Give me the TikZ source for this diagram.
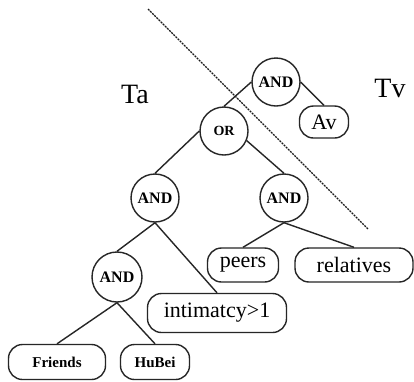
\documentclass[tikz,border=0pt]{standalone}
\usepackage{fontspec}
\setmainfont{Liberation Serif}
\begin{document}
\begin{tikzpicture}[x=1pt,y=-1pt,
  op/.style={draw=black!85,line width=1.4pt,circle,minimum size=48pt,inner sep=0pt,font=\fontsize{16}{16}\selectfont\bfseries},
  leaf/.style={draw=black!85,line width=1.4pt,rounded corners=14pt,inner sep=0pt,font=\fontsize{22}{22}\selectfont},
  sleaf/.style={draw=black!85,line width=1.4pt,rounded corners=14pt,inner sep=0pt,font=\fontsize{15}{15}\selectfont\bfseries},
  edge/.style={draw=black!85,line width=1.4pt},
  lbl/.style={font=\fontsize{28}{28}\selectfont}]
\useasboundingbox (0,0) rectangle (414,381);
\fill[white] (0,0) rectangle (414,381);
\coordinate (d1) at (148,9);
\coordinate (d2) at (368,229);
\draw[black!90,line width=1.3pt,dash pattern=on 2pt off 1pt] (d1) -- (d2);
\node[lbl] (ta) at (135,94) {Ta};
\node[lbl] (tv) at (390,88) {Tv};
\node[op] (andT) at (276,82) {AND};
\node[leaf,minimum width=49pt,minimum height=32pt] (av) at (324,122) {Av};
\node[op,font=\fontsize{14}{14}\selectfont\bfseries] (orN) at (224,131) {OR};
\node[op] (andL) at (155,198) {AND};
\node[op] (andR) at (284,198) {AND};
\node[leaf,minimum width=71pt,minimum height=34pt] (peers) at (243,265) {peers};
\node[leaf,minimum width=118pt,minimum height=34pt] (rel) at (354,265) {relatives};
\node[op,minimum size=50pt] (and4) at (117,277) {AND};
\node[leaf,minimum width=139pt,minimum height=39pt] (intim) at (217,313) {intimatcy>1};
\node[sleaf,minimum width=97pt,minimum height=35pt] (friends) at (57,362) {Friends};
\node[sleaf,minimum width=69pt,minimum height=35pt] (hubei) at (155,362) {HuBei};
\draw[edge] (andT.west) -- (orN.north);
\draw[edge] (andT.east) -- (av.north);
\draw[edge] (orN.west) -- (andL.north);
\draw[edge] (orN.-23) -- (andR.north);
\draw[edge] (andL.south) -- (and4.north);
\draw[edge] (andL.south) -- (intim.north);
\draw[edge] (andR.south) -- (peers.north);
\draw[edge] (andR.south) -- (rel.north);
\draw[edge] (and4.south) -- (friends.north);
\draw[edge] (and4.south) -- (hubei.north);
\end{tikzpicture}
\end{document}
